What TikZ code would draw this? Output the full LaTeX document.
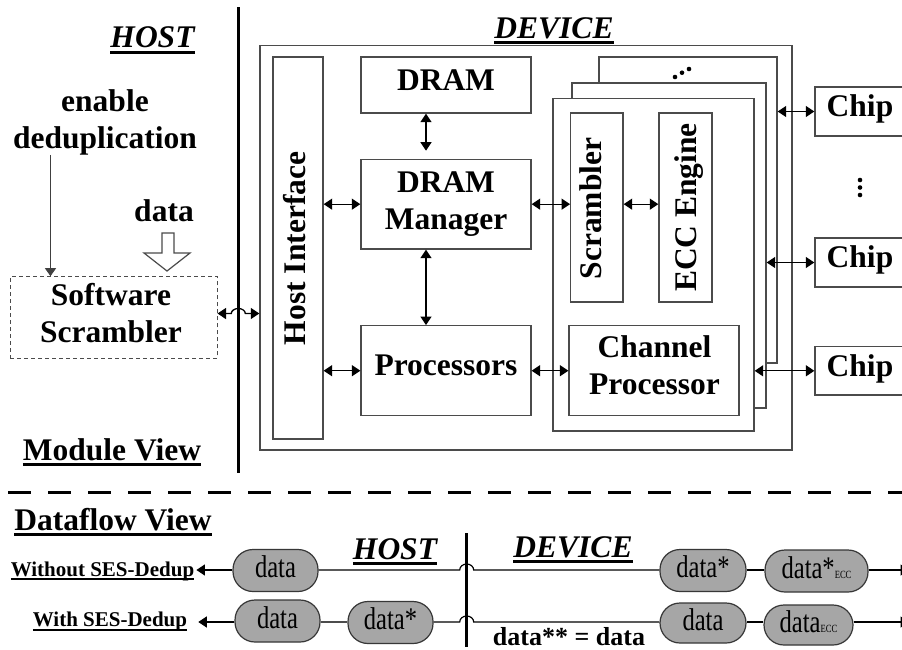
\documentclass[tikz,border=0pt]{standalone}
\usepackage{fontspec}
\setmainfont{Liberation Serif}
\newfontfamily\pillfont[FakeStretch=0.78]{Liberation Serif}
\usetikzlibrary{arrows.meta,calc}
\definecolor{boxgray}{RGB}{75,75,75}
\definecolor{pillgray}{RGB}{166,166,166}
\definecolor{pillline}{RGB}{55,55,55}
% underlined text with a rule scaled to the current font
\newcommand\ulbar[2][0.09em]{\setbox0=\hbox{#2}\rlap{\rule[-0.19em]{\wd0}{#1}}\box0}
\newcommand\eccsub{{\fontsize{11}{11}\selectfont ECC}}
\begin{document}
\begin{tikzpicture}[x=1pt,y=-1pt,
  font=\bfseries\fontsize{31.5}{37}\selectfont,
  >={Triangle[length=8.5pt,width=11pt]},
  blk/.style={draw=boxgray,line width=1.3pt,fill=white,inner sep=0pt},
  oneline/.style={text height=21pt,text depth=10.5pt},
  conn/.style={<->,line width=1.3pt},
  lbl/.style={inner sep=0pt},
  small/.style={font=\bfseries\fontsize{21}{21}\selectfont},
  pill/.style={draw=pillline,line width=1.2pt,fill=pillgray,rounded corners=20pt,
    minimum height=42pt,inner sep=0pt,text height=21pt,text depth=7pt,
    font=\pillfont\mdseries\fontsize{31.5}{31.5}\selectfont},
  flow/.style={line width=1.2pt},
  thick sep/.style={line width=3.3pt}]
\useasboundingbox (0,0) rectangle (902,649);
\fill[white] (0,0) rectangle (902,649);

% ---------- module view ----------
\node[lbl,anchor=base] (hostT) at (152.5,47.7) {\itshape\ulbar{HOST}};
\node[lbl,anchor=base] (devT) at (554,38) {\itshape\ulbar{DEVICE}};

\node[lbl,align=center] (enable) at (105,122) {enable\\deduplication};
\node[lbl,anchor=base] (dataL) at (164,221) {data};
% hollow input arrow
\draw[draw=boxgray,line width=1.2pt,fill=white]
  (162,233) -- (174,233) -- (174,253) -- (190,253) -- (167,271) -- (144,253) -- (162,253) -- cycle;

\node[draw=boxgray,line width=1pt,dash pattern=on 4pt off 3pt,inner sep=0pt,
  minimum width=207pt,minimum height=81.6pt] (sw) at (113.5,317.5) {};
\node[lbl,align=center] (swT) at (111,312.7) {Software\\Scrambler};
\coordinate (dedupX) at ($(sw.north west)+(41,0)$);
\draw[->,draw=black!75,line width=1pt,>={Triangle[length=8pt,width=11pt]}]
  (dedupX |- enable.south) -- (dedupX);

% host / device separator
\coordinate (sepT) at (238.3,7);
\coordinate (sepB) at (238.3,473);
\draw[thick sep] (sepT) -- (sepB);

% device enclosure
\node[blk,minimum width=532pt,minimum height=404.3pt] (dev) at (526,247.85) {};
\node[blk,minimum width=50pt,minimum height=382pt] (hif) at (298,248) {};
\node[lbl,rotate=90,anchor=base] (hifT) at (305,248.4) {Host Interface};

\node[blk,oneline,minimum width=170pt,minimum height=56pt] (dram) at (446,85) {DRAM};
\node[blk,minimum width=170pt,minimum height=89.7pt,align=center] (mgr) at (446,204.15) {DRAM\\Manager};
\node[blk,oneline,minimum width=170pt,minimum height=90pt] (proc) at (446,370.7) {Processors};

% stacked channels
\node[blk,minimum width=178pt,minimum height=306pt] (chB) at (688,210) {};
\fill (675,77) circle[radius=2.3pt] (682,72.7) circle[radius=2.3pt] (689,69) circle[radius=2.3pt];
\node[blk,minimum width=194pt,minimum height=325pt] (chM) at (669,245.5) {};
\node[blk,minimum width=201pt,minimum height=332.3pt] (chF) at (653.5,264.85) {};

\node[blk,minimum width=52.3pt,minimum height=189pt] (scr) at (596.85,207.5) {};
\node[lbl,rotate=90,anchor=base] (scrT) at (601.7,208.5) {Scrambler};
\node[blk,minimum width=53pt,minimum height=189pt] (ecc) at (685.5,207.5) {};
\node[lbl,rotate=90,anchor=base] (eccT) at (696.7,207.5) {ECC Engine};
\node[blk,minimum width=170pt,minimum height=90pt] (cp) at (654,370.7) {};
\node[lbl,align=center] (cpT) at (654.5,365.7) {Channel\\Processor};

% flash chips
\node[blk,oneline,minimum width=90pt,minimum height=49pt] (chip1) at (860,111.5) {Chip};
\node[blk,oneline,minimum width=90pt,minimum height=49pt] (chip2) at (860,262.5) {Chip};
\node[blk,oneline,minimum width=90pt,minimum height=48.5pt] (chip3) at (860,370.8) {Chip};
\fill (860,180) circle[radius=2.3pt] (860,187.5) circle[radius=2.3pt] (860,195) circle[radius=2.3pt];

% links
\draw[conn] ($(dram.south)+(-20,0)$) -- ($(mgr.north)+(-20,-8)$);
\draw[conn] ($(mgr.south)+(-20,0)$) -- ($(proc.north)+(-20,0)$);
\draw[conn] (hif.east |- mgr.west) -- (mgr.west);
\draw[conn] (hif.east |- proc.west) -- (proc.west);
\draw[conn] (mgr.east) -- (scr.west |- mgr.east);
\draw[conn] (proc.east) -- (cp.west);
\draw[conn] (scr.east |- mgr.east) -- (ecc.west |- mgr.east);
\draw[conn] (chB.east |- chip1.west) -- (chip1.west);
\draw[conn] (chM.east |- chip2.west) -- (chip2.west);
\draw[conn] (chF.east |- chip3.west) -- (chip3.west);
\coordinate (swlink) at (0,313.5);
\draw[conn] (sw.east |- swlink) -- ($(sepT |- swlink)+(-7,0)$)
  arc[start angle=180,end angle=0,x radius=7pt,y radius=5pt] -- (dev.west |- swlink);

\node[lbl,anchor=base] (modV) at (112,460) {\ulbar[0.1em]{Module View}};

% ---------- view separator ----------
\coordinate (dashL) at (8,492.5);
\coordinate (dashR) at (902,492.5);
\draw[line width=3.2pt,dash pattern=on 23pt off 17pt] (dashL) -- (dashR);

% ---------- dataflow view ----------
\node[lbl,anchor=base] (flowV) at (113,530) {\ulbar[0.1em]{Dataflow View}};
\node[lbl,small,anchor=base] (woL) at (102.5,576) {\ulbar[0.08em]{Without SES-Dedup}};
\node[lbl,small,anchor=base] (wiL) at (110,626.5) {\ulbar[0.08em]{With SES-Dedup}};
\node[lbl,anchor=base] (hostD) at (395,559) {\itshape\ulbar{HOST}};
\node[lbl,anchor=base] (devD) at (573,557.3) {\itshape\ulbar{DEVICE}};
\coordinate (vsepT) at (466.7,533);
\coordinate (vsepB) at (466.7,647);
\draw[thick sep] (vsepT) -- (vsepB);

\node[pill,minimum width=85pt] (p1) at (275.5,570.5) {data};
\node[pill,minimum width=86pt] (p2) at (703,570.5) {data*};
\node[pill,minimum width=103pt] (p3) at (816.5,571) {data*\eccsub};
\node[pill,minimum width=85pt] (q1) at (277.5,621) {data};
\node[pill,minimum width=85pt] (q2) at (390.5,622.5) {data*};
\node[pill,minimum width=86pt,minimum height=40pt] (q3) at (703,623) {data};
\node[pill,minimum width=89pt,minimum height=40pt] (q4) at (808.5,625) {data\eccsub};
\node[lbl,anchor=base,font=\bfseries\fontsize{26}{26}\selectfont] (eqT) at (569,645) {data** = data};

\coordinate (r1) at (0,570);
\coordinate (r2) at (0,622);
\coordinate (endA) at (909,570);
\coordinate (endB) at (909,622);

\draw[flow,->] (p1.west |- r1) -- ($(woL.east |- r1)+(2,0)$);
\draw[flow] (p1.east |- r1) -- ($(vsepT |- r1)+(-7,0)$)
  arc[start angle=180,end angle=0,x radius=7pt,y radius=6pt] -- (p2.west |- r1);
\draw[flow] (p2.east |- r1) -- (p3.west |- r1);
\draw[flow,->] (p3.east |- r1) -- (endA);

\draw[flow,->] (q1.west |- r2) -- ($(wiL.east |- r2)+(11,0)$);
\draw[flow,draw=black!70] (q1.east |- r2) -- (q2.west |- r2);
\draw[flow] (q2.east |- r2) -- ($(vsepT |- r2)+(-7,0)$)
  arc[start angle=180,end angle=0,x radius=7pt,y radius=6pt] -- (q3.west |- r2);
\draw[flow] (q3.east |- r2) -- (q4.west |- r2);
\draw[flow,->] (q4.east |- r2) -- (endB);
\end{tikzpicture}
\end{document}
